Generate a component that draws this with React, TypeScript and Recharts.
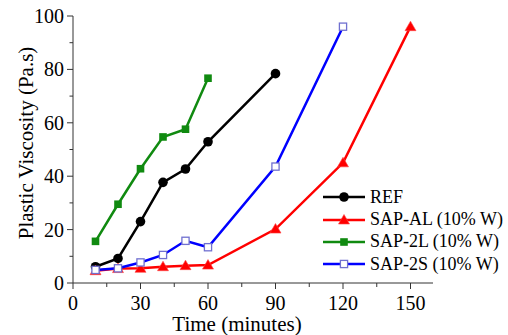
import { LineChart, Line, XAxis, YAxis, Label } from "recharts";

const times = [10, 20, 30, 40, 50, 60, 90, 120, 150];
const refValues = [6.1, 9.2, 23, 37.7, 42.7, 52.9, 78.4, null, null];
const sapAlValues = [4.6, 5.4, 5.5, 6.1, 6.5, 6.7, 20.2, 45, 96];
const sap2lValues = [15.6, 29.5, 42.8, 54.7, 57.6, 76.7, null, null, null];
const sap2sValues = [4.9, 5.5, 7.7, 10.5, 15.8, 13.4, 43.6, 96, null];

const xTicks = [0, 15, 30, 45, 60, 75, 90, 105, 120, 135, 150];
const yTicks = [0, 10, 20, 30, 40, 50, 60, 70, 80, 90, 100];

const seriesNames = ["REF", "SAP-AL (10% W)", "SAP-2L (10% W)", "SAP-2S (10% W)"];

const data = times.map((t, i) => ({
  time: t,
  ref: refValues[i],
  sapAl: sapAlValues[i],
  sap2l: sap2lValues[i],
  sap2s: sap2sValues[i],
}));

const font = "'Liberation Serif', 'Times New Roman', serif";
const axisColor = "#333";

type Kind = "circle" | "triangle" | "square" | "hollow";

function Marker({ kind, cx, cy }: { kind: Kind; cx: number; cy: number }) {
  if (cx == null || cy == null) return null;
  if (kind === "circle") return <circle cx={cx} cy={cy} r={4.8} fill="#000" />;
  if (kind === "triangle")
    return (
      <polygon
        points={`${cx},${cy - 5.5} ${cx + 5.5},${cy + 4} ${cx - 5.5},${cy + 4}`}
        fill="#ff0000"
        stroke="#ff4444"
        strokeWidth={0.6}
      />
    );
  if (kind === "square")
    return <rect x={cx - 3.8} y={cy - 3.8} width={7.6} height={7.6} fill="#108a10" />;
  return (
    <rect x={cx - 3.6} y={cy - 3.6} width={7.2} height={7.2} fill="#fff" stroke="#7070d0" strokeWidth={1.3} />
  );
}

const dotFor = (kind: Kind) => (p: any) =>
  <Marker key={`${kind}-${p.index}`} kind={kind} cx={p.cx} cy={p.cy} />;

function XTick({ x, y, payload }: any) {
  const major = payload.value % 30 === 0;
  return (
    <g>
      <line x1={x} x2={x} y1={y} y2={y + (major ? 6 : 4)} stroke={axisColor} />
      {major && (
        <text x={x} y={y + 27} textAnchor="middle" fontFamily={font} fontSize={20} fill="#000">
          {payload.value}
        </text>
      )}
    </g>
  );
}

function YTick({ x, y, payload }: any) {
  const major = payload.value % 20 === 0;
  return (
    <g>
      <line x1={x} x2={x - (major ? 6 : 3.5)} y1={y} y2={y} stroke={axisColor} />
      {major && (
        <text x={x - 9} y={y} dy="0.35em" textAnchor="end" fontFamily={font} fontSize={20} fill="#000">
          {payload.value}
        </text>
      )}
    </g>
  );
}

const legendItems: { name: string; color: string; kind: Kind }[] = [
  { name: seriesNames[0], color: "#000", kind: "circle" },
  { name: seriesNames[1], color: "#ff0000", kind: "triangle" },
  { name: seriesNames[2], color: "#108a10", kind: "square" },
  { name: seriesNames[3], color: "#0000ff", kind: "hollow" },
];

function LegendBox() {
  return (
    <div style={{ position: "absolute", left: 323, top: 186 }}>
      {legendItems.map((it) => (
        <div key={it.name} style={{ display: "flex", alignItems: "center", height: 22.4 }}>
          <svg width={42} height={22} style={{ display: "block" }}>
            <line x1={0} x2={42} y1={11} y2={11} stroke={it.color} strokeWidth={2.5} />
            <Marker kind={it.kind} cx={21} cy={11} />
          </svg>
          <span style={{ fontFamily: font, fontSize: 18, marginLeft: 5, color: "#000", whiteSpace: "nowrap" }}>
            {it.name}
          </span>
        </div>
      ))}
    </div>
  );
}

export default function App() {
  return (
    <div style={{ position: "absolute", left: 0, top: 0, width: 508, height: 335, background: "#fff" }}>
      <LineChart width={508} height={335} data={data} margin={{ top: 16, right: 75, bottom: 0, left: 0 }}>
        <XAxis
          dataKey="time"
          type="number"
          domain={[0, 160]}
          ticks={xTicks}
          interval={0}
          tickLine={false}
          tickSize={0}
          tickMargin={0}
          tick={<XTick />}
          height={52}
          stroke={axisColor}
        >
          <Label
            content={() => (
              <text x={237} y={331} textAnchor="middle" fontFamily={font} fontSize={21} fill="#000">
                Time (minutes)
              </text>
            )}
          />
        </XAxis>
        <YAxis
          type="number"
          domain={[0, 100]}
          ticks={yTicks}
          interval={0}
          tickLine={false}
          tickSize={0}
          tickMargin={0}
          tick={<YTick />}
          width={73}
          stroke={axisColor}
        >
          <Label
            content={() => (
              <text
                x={0}
                y={0}
                transform="translate(33,143) rotate(-90)"
                textAnchor="middle"
                fontFamily={font}
                fontSize={21}
                fill="#000"
              >
                Plastic Viscosity (Pa.s)
              </text>
            )}
          />
        </YAxis>
        <Line dataKey="ref" name={seriesNames[0]} stroke="#000" strokeWidth={2.5} dot={dotFor("circle")} activeDot={false} isAnimationActive={false} />
        <Line dataKey="sapAl" name={seriesNames[1]} stroke="#ff0000" strokeWidth={2.5} dot={dotFor("triangle")} activeDot={false} isAnimationActive={false} />
        <Line dataKey="sap2l" name={seriesNames[2]} stroke="#108a10" strokeWidth={2.5} dot={dotFor("square")} activeDot={false} isAnimationActive={false} />
        <Line dataKey="sap2s" name={seriesNames[3]} stroke="#0000ff" strokeWidth={2.5} dot={dotFor("hollow")} activeDot={false} isAnimationActive={false} />
      </LineChart>
      <LegendBox />
    </div>
  );
}
